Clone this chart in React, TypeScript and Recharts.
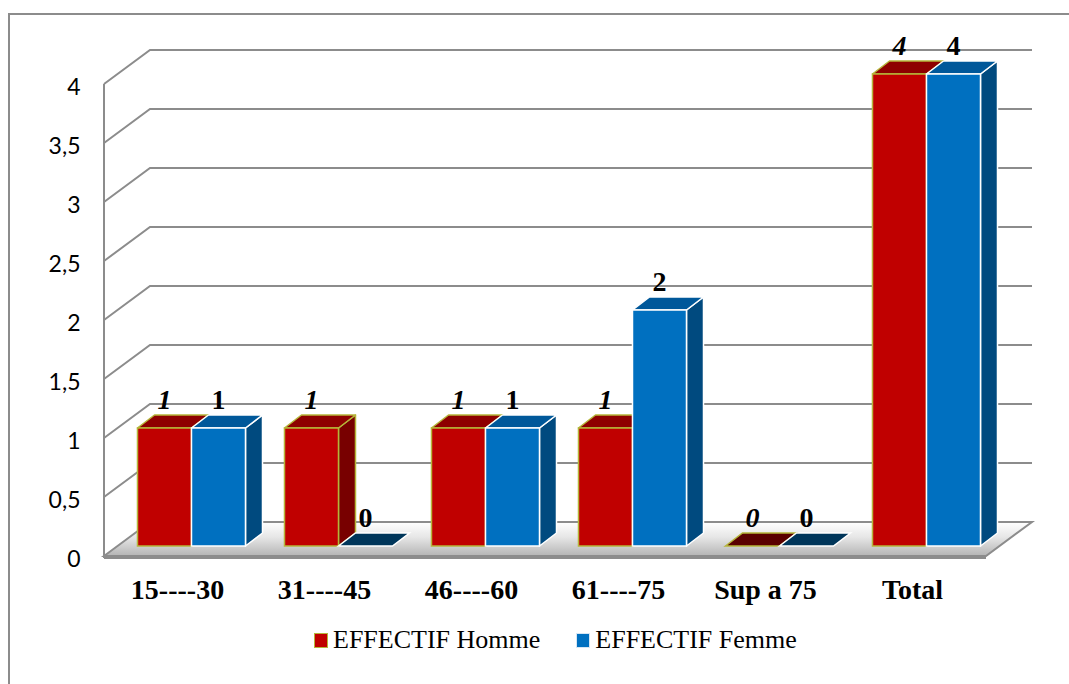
import React from 'react';
import { BarChart, Bar, XAxis, YAxis, CartesianGrid, Legend, LabelList, ReferenceArea } from 'recharts';

const categories = ['15----30', '31----45', '46----60', '61----75', 'Sup a 75', 'Total'];
const hommeValues = [1, 1, 1, 1, 0, 4];
const femmeValues = [1, 0, 1, 2, 0, 4];
const yTicks = [0, 0.5, 1, 1.5, 2, 2.5, 3, 3.5, 4];
const seriesOrder = ['homme', 'femme'];

const data = categories.map((name, i) => ({ name, homme: hommeValues[i], femme: femmeValues[i] }));

// pseudo-3D geometry, in px
const FRONT_DX = 13.5; // bar plane -> front edge of floor / axis
const FRONT_DY = 10;
const WALL_DX = 46; // front edge -> back wall
const WALL_DY = 34;
const BAR_DX = 17; // depth of one bar
const BAR_DY = 13;

const serif = '"Liberation Serif", "Times New Roman", serif';
const gridColor = '#8c8c8c';

const palette = {
  homme: { front: '#C00000', top: '#8E0000', side: '#780000', flat: '#5A0000', edge: '#B5B53A', key: '#B5B53A' },
  femme: { front: '#0070C0', top: '#00589A', side: '#004A7F', flat: '#00365A', edge: '#FFFFFF', key: '#d6e6f4' },
};

type Colors = typeof palette.homme;

const makeBox = (c: Colors) => (props: any) => {
  const { x, y, width: w } = props;
  const h = Math.max(props.height || 0, 0);
  const b = y + h;
  if (h < 0.5) {
    return (
      <path
        d={`M${x},${b}L${x + BAR_DX},${b - BAR_DY}L${x + w + BAR_DX},${b - BAR_DY}L${x + w},${b}Z`}
        fill={c.flat}
        stroke={c.edge}
        strokeWidth={1.5}
      />
    );
  }
  return (
    <g>
      <path
        d={`M${x + w},${y}L${x + w + BAR_DX},${y - BAR_DY}L${x + w + BAR_DX},${b - BAR_DY}L${x + w},${b}Z`}
        fill={c.side}
        stroke={c.edge}
        strokeWidth={1.5}
        strokeLinejoin="round"
      />
      <path
        d={`M${x},${y}L${x + BAR_DX},${y - BAR_DY}L${x + w + BAR_DX},${y - BAR_DY}L${x + w},${y}Z`}
        fill={c.top}
        stroke={c.edge}
        strokeWidth={1.5}
        strokeLinejoin="round"
      />
      <rect x={x} y={y} width={w} height={h} fill={c.front} stroke={c.edge} strokeWidth={1.5} />
    </g>
  );
};

// back wall lines; the value-0 line becomes the floor
const wallLine = (props: any) => {
  const { x1, x2, y1, index } = props;
  const fx = x1 - FRONT_DX;
  const fy = y1 + FRONT_DY;
  const bx = fx + WALL_DX;
  const by = fy - WALL_DY;
  const ex = x2 - FRONT_DX + WALL_DX;
  if (index === 0) {
    return (
      <g key={`wall-${index}`}>
        <defs>
          <linearGradient id="floorShade" x1="0" y1="0" x2="0" y2="1">
            <stop offset="0" stopColor="#ffffff" />
            <stop offset="0.45" stopColor="#e6e6e6" />
            <stop offset="1" stopColor="#b4b4b4" />
          </linearGradient>
        </defs>
        <path
          d={`M${fx},${fy}L${bx},${by}L${ex},${by}L${ex - WALL_DX},${fy}Z`}
          fill="url(#floorShade)"
          stroke={gridColor}
          strokeWidth={2}
        />
        <line x1={fx} y1={fy + 2} x2={ex - WALL_DX} y2={fy + 2} stroke={gridColor} strokeWidth={2} />
      </g>
    );
  }
  return (
    <path
      key={`wall-${index}`}
      d={`M${fx},${fy}L${bx},${by}L${ex},${by}`}
      stroke={gridColor}
      strokeWidth={2}
      fill="none"
    />
  );
};

const frontAxis = (props: any) => {
  const { x, y, height } = props;
  return (
    <line
      x1={x - FRONT_DX}
      y1={y + FRONT_DY}
      x2={x - FRONT_DX}
      y2={y + height + FRONT_DY + 2}
      stroke={gridColor}
      strokeWidth={2}
    />
  );
};

const ValueTick = ({ x, y, payload }: any) => (
  <text x={x} y={y + 21} textAnchor="end" fontFamily="Lato, sans-serif" fontSize={23} fill="#000">
    {String(payload.value).replace('.', ',')}
  </text>
);

const CategoryTick = ({ x, y, payload }: any) => (
  <text x={x - FRONT_DX} y={y + 53} textAnchor="middle" fontFamily={serif} fontWeight="bold" fontSize={28} fill="#000">
    {payload.value}
  </text>
);

const LegendBox = ({ payload }: any) => {
  const items = [...(payload || [])].sort(
    (a: any, b: any) => seriesOrder.indexOf(a.dataKey) - seriesOrder.indexOf(b.dataKey),
  );
  return (
    <div style={{ display: 'flex', alignItems: 'center', height: 30, paddingLeft: 314 }}>
      {items.map((entry: any) => {
        const c = palette[entry.dataKey as 'homme' | 'femme'];
        return (
          <div key={entry.dataKey} style={{ display: 'flex', alignItems: 'center', marginRight: 36 }}>
            <span
              style={{
                display: 'inline-block',
                width: 12,
                height: 13,
                background: c.front,
                border: `1.5px solid ${c.key}`,
                marginRight: 5,
              }}
            />
            <span style={{ fontFamily: serif, fontSize: 26, color: '#000', lineHeight: '30px' }}>{entry.value}</span>
          </div>
        );
      })}
    </div>
  );
};

export default function App() {
  return (
    <div style={{ position: 'absolute', left: 0, top: 0, width: 1069, height: 684, background: '#fff' }}>
      <div
        style={{
          position: 'absolute',
          left: 8,
          top: 13,
          width: 1061,
          height: 671,
          borderTop: `2px solid ${gridColor}`,
          borderLeft: `2px solid ${gridColor}`,
          boxSizing: 'border-box',
        }}
      />
      <div style={{ position: 'absolute', left: 0, top: 0 }}>
        <BarChart
          width={1069}
          height={684}
          data={data}
          margin={{ top: 74, right: 69.5, bottom: 29, left: 0 }}
          barCategoryGap="13.6%"
          barGap={0}
        >
          <CartesianGrid vertical={false} horizontal={wallLine} />
          <XAxis
            dataKey="name"
            height={79}
            axisLine={false}
            tickLine={false}
            tickSize={0}
            tickMargin={0}
            tick={<CategoryTick />}
            interval={0}
          />
          <YAxis
            domain={[0, 4]}
            ticks={yTicks}
            width={117.5}
            axisLine={false}
            tickLine={false}
            tickSize={0}
            tickMargin={37}
            tick={<ValueTick />}
          />
          <ReferenceArea y1={0} y2={4} shape={frontAxis} />
          <Legend content={<LegendBox />} wrapperStyle={{ top: 625, left: 0, width: 1069, height: 30 }} />
          <Bar dataKey="homme" name="EFFECTIF Homme" fill={palette.homme.front} shape={makeBox(palette.homme)} isAnimationActive={false}>
            <LabelList
              dataKey="homme"
              position="top"
              offset={19}
              fill="#000"
              fontFamily={serif}
              fontSize={28}
              fontWeight="bold"
              fontStyle="italic"
            />
          </Bar>
          <Bar dataKey="femme" name="EFFECTIF Femme" fill={palette.femme.front} shape={makeBox(palette.femme)} isAnimationActive={false}>
            <LabelList
              dataKey="femme"
              position="top"
              offset={19}
              fill="#000"
              fontFamily={serif}
              fontSize={28}
              fontWeight="bold"
            />
          </Bar>
        </BarChart>
      </div>
    </div>
  );
}
